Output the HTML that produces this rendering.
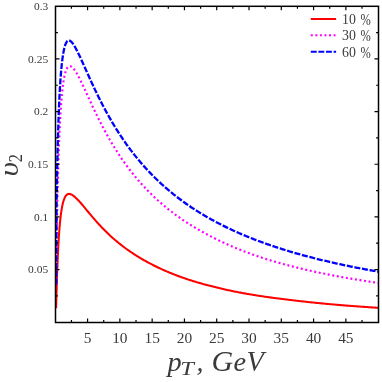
<!DOCTYPE html>
<html><head><meta charset="utf-8"><title>v2</title><style>html,body{margin:0;padding:0;background:#fff}body{width:382px;height:382px;overflow:hidden;font-family:"Liberation Serif",serif}</style></head><body>
<svg width="382" height="382" viewBox="0 0 382 382" style="display:block">
<rect width="382" height="382" fill="#fff"/>
<defs><clipPath id="c"><rect x="55.65" y="0" width="322.85" height="382"/></clipPath></defs>
<g fill="none" stroke-width="2.05" stroke-linejoin="round" clip-path="url(#c)">
<path d="M56.10 308.30 L57.04 275.58 L57.07 274.82 L57.10 274.06 L57.12 273.29 L57.15 272.52 L57.18 271.74 L57.21 270.96 L57.24 270.17 L57.27 269.38 L57.30 268.59 L57.33 267.79 L57.36 266.99 L57.39 266.18 L57.42 265.37 L57.46 264.56 L57.49 263.75 L57.52 262.93 L57.56 262.11 L57.59 261.28 L57.62 260.46 L57.66 259.63 L57.70 258.80 L57.73 257.97 L57.77 257.14 L57.81 256.30 L57.85 255.46 L57.88 254.62 L57.92 253.79 L57.96 252.95 L58.00 252.10 L58.05 251.26 L58.09 250.42 L58.13 249.58 L58.17 248.74 L58.22 247.90 L58.26 247.06 L58.31 246.21 L58.35 245.37 L58.40 244.54 L58.45 243.70 L58.50 242.86 L58.54 242.03 L58.59 241.19 L58.64 240.36 L58.69 239.53 L58.75 238.70 L58.80 237.88 L58.85 237.06 L58.91 236.24 L58.96 235.42 L59.02 234.61 L59.07 233.80 L59.13 232.99 L59.19 232.19 L59.25 231.39 L59.31 230.59 L59.37 229.80 L59.43 229.02 L59.50 228.24 L59.56 227.46 L59.63 226.69 L59.69 225.92 L59.76 225.16 L59.83 224.41 L59.90 223.66 L59.97 222.92 L60.04 222.18 L60.11 221.45 L60.18 220.72 L60.26 220.01 L60.33 219.30 L60.41 218.59 L60.49 217.90 L60.57 217.21 L60.65 216.52 L60.73 215.85 L60.81 215.18 L60.90 214.52 L60.98 213.87 L61.07 213.23 L61.16 212.60 L61.24 211.97 L61.34 211.35 L61.43 210.75 L61.52 210.15 L61.62 209.56 L61.71 208.98 L61.81 208.41 L61.91 207.84 L62.01 207.29 L62.11 206.75 L62.22 206.22 L62.32 205.69 L62.43 205.18 L62.54 204.68 L62.65 204.19 L62.76 203.70 L62.87 203.23 L62.99 202.77 L63.11 202.32 L63.23 201.88 L63.35 201.46 L63.47 201.04 L63.60 200.63 L63.72 200.24 L63.85 199.86 L63.98 199.48 L64.11 199.12 L64.25 198.78 L64.38 198.44 L64.52 198.11 L64.66 197.80 L64.81 197.50 L64.95 197.21 L65.10 196.93 L65.25 196.66 L65.40 196.41 L65.55 196.16 L65.71 195.93 L65.87 195.72 L66.03 195.51 L66.19 195.32 L66.36 195.13 L66.53 194.97 L66.70 194.81 L66.88 194.66 L67.05 194.53 L67.23 194.41 L67.41 194.30 L67.60 194.21 L67.79 194.12 L67.98 194.05 L68.17 193.99 L68.37 193.95 L68.57 193.91 L68.77 193.89 L68.97 193.88 L69.18 193.89 L69.39 193.90 L69.61 193.93 L69.83 193.97 L70.05 194.02 L70.27 194.08 L70.50 194.16 L70.73 194.24 L70.97 194.34 L71.21 194.45 L71.45 194.57 L71.70 194.70 L71.95 194.84 L72.20 194.99 L72.46 195.15 L72.72 195.32 L72.99 195.51 L73.26 195.70 L73.53 195.91 L73.81 196.12 L74.09 196.35 L74.38 196.59 L74.67 196.83 L75.69 197.74 L76.70 198.71 L77.72 199.74 L78.74 200.81 L79.75 201.91 L80.77 203.05 L81.78 204.21 L82.80 205.40 L83.82 206.61 L84.83 207.83 L85.85 209.06 L86.86 210.29 L87.88 211.52 L88.90 212.74 L89.91 213.96 L90.93 215.17 L91.95 216.37 L92.96 217.57 L93.98 218.75 L94.99 219.92 L96.01 221.07 L97.03 222.21 L98.04 223.34 L99.06 224.46 L100.07 225.56 L101.09 226.64 L102.11 227.71 L103.12 228.77 L104.14 229.81 L105.16 230.83 L106.17 231.84 L107.19 232.83 L108.20 233.80 L109.22 234.76 L110.24 235.70 L111.25 236.63 L112.27 237.54 L113.28 238.44 L114.30 239.33 L115.32 240.20 L116.33 241.06 L117.35 241.90 L118.37 242.74 L119.38 243.56 L120.40 244.37 L121.41 245.16 L122.43 245.95 L123.45 246.72 L124.46 247.49 L125.48 248.24 L126.49 248.98 L127.51 249.71 L128.53 250.43 L129.54 251.13 L130.56 251.83 L131.58 252.52 L132.59 253.20 L133.61 253.87 L134.62 254.53 L135.64 255.18 L136.66 255.82 L137.67 256.45 L138.69 257.08 L139.70 257.69 L140.72 258.30 L141.74 258.90 L142.75 259.49 L143.77 260.07 L144.79 260.64 L145.80 261.21 L146.82 261.77 L147.83 262.32 L148.85 262.87 L149.87 263.41 L150.88 263.94 L151.90 264.46 L152.91 264.98 L153.93 265.49 L154.95 266.00 L155.96 266.50 L156.98 266.99 L158.00 267.48 L159.01 267.96 L160.03 268.44 L161.04 268.91 L162.06 269.37 L163.08 269.83 L164.09 270.29 L165.11 270.73 L166.12 271.17 L167.14 271.61 L168.16 272.04 L169.17 272.47 L170.19 272.89 L171.21 273.30 L172.22 273.71 L173.24 274.12 L174.25 274.52 L175.27 274.91 L176.29 275.30 L177.30 275.69 L178.32 276.07 L179.33 276.44 L180.35 276.81 L181.37 277.18 L182.38 277.54 L183.40 277.90 L184.42 278.25 L185.43 278.59 L186.45 278.94 L187.46 279.27 L188.48 279.61 L189.50 279.94 L190.51 280.26 L191.53 280.58 L192.54 280.90 L193.56 281.21 L194.58 281.52 L195.59 281.83 L196.61 282.13 L197.63 282.43 L198.64 282.73 L199.66 283.03 L200.67 283.32 L201.69 283.60 L202.71 283.89 L203.72 284.17 L204.74 284.45 L205.75 284.73 L206.77 285.00 L207.79 285.27 L208.80 285.54 L209.82 285.80 L210.84 286.06 L211.85 286.32 L212.87 286.58 L213.88 286.83 L214.90 287.09 L215.92 287.33 L216.93 287.58 L217.95 287.83 L218.96 288.07 L219.98 288.31 L221.00 288.54 L222.01 288.78 L223.03 289.01 L224.05 289.24 L225.06 289.47 L226.08 289.69 L227.09 289.92 L228.11 290.14 L229.13 290.36 L230.14 290.57 L231.16 290.79 L232.17 291.00 L233.19 291.21 L234.21 291.42 L235.22 291.63 L236.24 291.83 L237.26 292.04 L238.27 292.24 L239.29 292.43 L240.30 292.63 L241.32 292.82 L242.34 293.01 L243.35 293.20 L244.37 293.38 L245.38 293.56 L246.40 293.74 L247.42 293.92 L248.43 294.10 L249.45 294.27 L250.47 294.44 L251.48 294.61 L252.50 294.78 L253.51 294.94 L254.53 295.11 L255.55 295.27 L256.56 295.43 L257.58 295.59 L258.59 295.74 L259.61 295.90 L260.63 296.05 L261.64 296.20 L262.66 296.35 L263.67 296.50 L264.69 296.65 L265.71 296.79 L266.72 296.93 L267.74 297.08 L268.76 297.22 L269.77 297.36 L270.79 297.50 L271.80 297.63 L272.82 297.77 L273.84 297.91 L274.85 298.04 L275.87 298.17 L276.88 298.31 L277.90 298.44 L278.92 298.57 L279.93 298.70 L280.95 298.83 L281.97 298.96 L282.98 299.08 L284.00 299.21 L285.01 299.34 L286.03 299.46 L287.05 299.59 L288.06 299.71 L289.08 299.84 L290.09 299.96 L291.11 300.08 L292.13 300.21 L293.14 300.33 L294.16 300.45 L295.18 300.57 L296.19 300.69 L297.21 300.80 L298.22 300.92 L299.24 301.04 L300.26 301.15 L301.27 301.27 L302.29 301.38 L303.30 301.49 L304.32 301.60 L305.34 301.72 L306.35 301.83 L307.37 301.94 L308.39 302.04 L309.40 302.15 L310.42 302.26 L311.43 302.37 L312.45 302.47 L313.47 302.58 L314.48 302.68 L315.50 302.78 L316.51 302.89 L317.53 302.99 L318.55 303.09 L319.56 303.19 L320.58 303.29 L321.60 303.39 L322.61 303.48 L323.63 303.58 L324.64 303.68 L325.66 303.77 L326.68 303.87 L327.69 303.96 L328.71 304.06 L329.72 304.15 L330.74 304.24 L331.76 304.33 L332.77 304.42 L333.79 304.51 L334.81 304.60 L335.82 304.69 L336.84 304.78 L337.85 304.86 L338.87 304.95 L339.89 305.03 L340.90 305.12 L341.92 305.20 L342.93 305.28 L343.95 305.37 L344.97 305.45 L345.98 305.53 L347.00 305.61 L348.02 305.69 L349.03 305.77 L350.05 305.85 L351.06 305.93 L352.08 306.00 L353.10 306.08 L354.11 306.16 L355.13 306.23 L356.14 306.31 L357.16 306.38 L358.18 306.46 L359.19 306.53 L360.21 306.60 L361.23 306.67 L362.24 306.75 L363.26 306.82 L364.27 306.89 L365.29 306.96 L366.31 307.03 L367.32 307.10 L368.34 307.16 L369.35 307.23 L370.37 307.30 L371.39 307.37 L372.40 307.43 L373.42 307.50 L374.44 307.56 L375.45 307.63 L376.47 307.69 L377.48 307.76 L378.50 307.82" stroke="#ff0000"/>
<path d="M56.55 284.50 L56.59 241.61 L56.61 240.28 L56.64 238.94 L56.66 237.58 L56.68 236.22 L56.71 234.84 L56.73 233.45 L56.75 232.05 L56.78 230.63 L56.81 229.21 L56.83 227.77 L56.86 226.33 L56.88 224.87 L56.91 223.40 L56.94 221.93 L56.97 220.44 L57.00 218.94 L57.03 217.43 L57.05 215.92 L57.08 214.39 L57.12 212.85 L57.15 211.31 L57.18 209.76 L57.21 208.19 L57.24 206.62 L57.28 205.05 L57.31 203.46 L57.35 201.87 L57.38 200.27 L57.42 198.66 L57.45 197.05 L57.49 195.43 L57.53 193.80 L57.57 192.17 L57.60 190.53 L57.64 188.89 L57.68 187.25 L57.73 185.59 L57.77 183.94 L57.81 182.28 L57.85 180.62 L57.90 178.95 L57.94 177.29 L57.99 175.62 L58.03 173.94 L58.08 172.27 L58.13 170.59 L58.18 168.92 L58.22 167.24 L58.28 165.56 L58.33 163.89 L58.38 162.21 L58.43 160.54 L58.48 158.87 L58.54 157.19 L58.60 155.53 L58.65 153.86 L58.71 152.20 L58.77 150.54 L58.83 148.88 L58.89 147.23 L58.95 145.58 L59.01 143.94 L59.08 142.31 L59.14 140.68 L59.21 139.05 L59.27 137.44 L59.34 135.83 L59.41 134.23 L59.48 132.64 L59.55 131.05 L59.63 129.48 L59.70 127.92 L59.78 126.36 L59.85 124.82 L59.93 123.29 L60.01 121.77 L60.09 120.26 L60.18 118.76 L60.26 117.28 L60.34 115.81 L60.43 114.35 L60.52 112.91 L60.61 111.48 L60.70 110.07 L60.79 108.67 L60.89 107.29 L60.98 105.93 L61.08 104.58 L61.18 103.25 L61.28 101.94 L61.38 100.65 L61.49 99.37 L61.59 98.12 L61.70 96.88 L61.81 95.67 L61.92 94.47 L62.04 93.30 L62.15 92.14 L62.27 91.01 L62.39 89.90 L62.51 88.81 L62.64 87.75 L62.76 86.71 L62.89 85.69 L63.02 84.69 L63.15 83.72 L63.29 82.78 L63.43 81.85 L63.57 80.95 L63.71 80.08 L63.85 79.23 L64.00 78.41 L64.15 77.62 L64.30 76.85 L64.46 76.10 L64.61 75.38 L64.77 74.69 L64.94 74.02 L65.10 73.39 L65.27 72.77 L65.44 72.19 L65.62 71.63 L65.79 71.10 L65.97 70.59 L66.16 70.12 L66.34 69.66 L66.53 69.24 L66.72 68.85 L66.92 68.48 L67.12 68.14 L67.32 67.82 L67.53 67.54 L67.74 67.28 L67.95 67.04 L68.17 66.84 L68.39 66.66 L68.62 66.51 L68.85 66.39 L69.08 66.30 L69.32 66.23 L69.56 66.19 L69.80 66.17 L70.05 66.19 L70.30 66.23 L70.56 66.30 L70.82 66.40 L71.09 66.52 L71.36 66.67 L71.64 66.85 L71.92 67.05 L72.20 67.29 L72.49 67.55 L72.79 67.83 L73.09 68.15 L73.40 68.49 L73.71 68.86 L74.02 69.26 L74.34 69.68 L74.67 70.13 L75.69 71.65 L76.70 73.31 L77.72 75.10 L78.74 77.00 L79.75 78.97 L80.77 81.02 L81.78 83.11 L82.80 85.25 L83.82 87.42 L84.83 89.60 L85.85 91.81 L86.86 94.02 L87.88 96.23 L88.90 98.44 L89.91 100.64 L90.93 102.84 L91.95 105.02 L92.96 107.18 L93.98 109.33 L94.99 111.46 L96.01 113.56 L97.03 115.65 L98.04 117.71 L99.06 119.75 L100.07 121.76 L101.09 123.75 L102.11 125.71 L103.12 127.65 L104.14 129.56 L105.16 131.45 L106.17 133.31 L107.19 135.14 L108.20 136.95 L109.22 138.73 L110.24 140.49 L111.25 142.23 L112.27 143.94 L113.28 145.62 L114.30 147.28 L115.32 148.92 L116.33 150.53 L117.35 152.12 L118.37 153.69 L119.38 155.23 L120.40 156.76 L121.41 158.26 L122.43 159.74 L123.45 161.19 L124.46 162.63 L125.48 164.05 L126.49 165.45 L127.51 166.82 L128.53 168.18 L129.54 169.52 L130.56 170.84 L131.58 172.14 L132.59 173.42 L133.61 174.69 L134.62 175.94 L135.64 177.17 L136.66 178.38 L137.67 179.58 L138.69 180.76 L139.70 181.93 L140.72 183.08 L141.74 184.21 L142.75 185.33 L143.77 186.43 L144.79 187.52 L145.80 188.60 L146.82 189.66 L147.83 190.71 L148.85 191.74 L149.87 192.76 L150.88 193.77 L151.90 194.77 L152.91 195.75 L153.93 196.72 L154.95 197.68 L155.96 198.62 L156.98 199.56 L158.00 200.48 L159.01 201.39 L160.03 202.29 L161.04 203.18 L162.06 204.05 L163.08 204.92 L164.09 205.78 L165.11 206.62 L166.12 207.46 L167.14 208.29 L168.16 209.10 L169.17 209.91 L170.19 210.71 L171.21 211.50 L172.22 212.27 L173.24 213.04 L174.25 213.81 L175.27 214.56 L176.29 215.30 L177.30 216.04 L178.32 216.76 L179.33 217.48 L180.35 218.19 L181.37 218.90 L182.38 219.59 L183.40 220.28 L184.42 220.96 L185.43 221.63 L186.45 222.30 L187.46 222.95 L188.48 223.61 L189.50 224.25 L190.51 224.89 L191.53 225.52 L192.54 226.14 L193.56 226.76 L194.58 227.37 L195.59 227.97 L196.61 228.57 L197.63 229.16 L198.64 229.75 L199.66 230.32 L200.67 230.90 L201.69 231.47 L202.71 232.03 L203.72 232.59 L204.74 233.14 L205.75 233.69 L206.77 234.24 L207.79 234.78 L208.80 235.31 L209.82 235.84 L210.84 236.37 L211.85 236.89 L212.87 237.41 L213.88 237.92 L214.90 238.43 L215.92 238.94 L216.93 239.44 L217.95 239.93 L218.96 240.42 L219.98 240.91 L221.00 241.39 L222.01 241.87 L223.03 242.35 L224.05 242.82 L225.06 243.29 L226.08 243.75 L227.09 244.21 L228.11 244.66 L229.13 245.11 L230.14 245.56 L231.16 246.00 L232.17 246.44 L233.19 246.88 L234.21 247.31 L235.22 247.74 L236.24 248.16 L237.26 248.59 L238.27 249.00 L239.29 249.41 L240.30 249.82 L241.32 250.23 L242.34 250.63 L243.35 251.03 L244.37 251.42 L245.38 251.82 L246.40 252.20 L247.42 252.59 L248.43 252.97 L249.45 253.34 L250.47 253.72 L251.48 254.09 L252.50 254.45 L253.51 254.81 L254.53 255.17 L255.55 255.53 L256.56 255.88 L257.58 256.23 L258.59 256.57 L259.61 256.91 L260.63 257.25 L261.64 257.58 L262.66 257.91 L263.67 258.24 L264.69 258.56 L265.71 258.88 L266.72 259.20 L267.74 259.52 L268.76 259.83 L269.77 260.14 L270.79 260.45 L271.80 260.75 L272.82 261.06 L273.84 261.36 L274.85 261.65 L275.87 261.95 L276.88 262.24 L277.90 262.53 L278.92 262.82 L279.93 263.11 L280.95 263.39 L281.97 263.67 L282.98 263.95 L284.00 264.23 L285.01 264.51 L286.03 264.78 L287.05 265.05 L288.06 265.32 L289.08 265.59 L290.09 265.85 L291.11 266.11 L292.13 266.38 L293.14 266.63 L294.16 266.89 L295.18 267.15 L296.19 267.40 L297.21 267.65 L298.22 267.90 L299.24 268.15 L300.26 268.39 L301.27 268.64 L302.29 268.88 L303.30 269.12 L304.32 269.36 L305.34 269.59 L306.35 269.83 L307.37 270.06 L308.39 270.29 L309.40 270.52 L310.42 270.75 L311.43 270.98 L312.45 271.20 L313.47 271.43 L314.48 271.65 L315.50 271.87 L316.51 272.09 L317.53 272.30 L318.55 272.52 L319.56 272.73 L320.58 272.95 L321.60 273.16 L322.61 273.37 L323.63 273.57 L324.64 273.78 L325.66 273.99 L326.68 274.19 L327.69 274.39 L328.71 274.59 L329.72 274.79 L330.74 274.99 L331.76 275.19 L332.77 275.39 L333.79 275.58 L334.81 275.77 L335.82 275.96 L336.84 276.15 L337.85 276.34 L338.87 276.53 L339.89 276.72 L340.90 276.90 L341.92 277.08 L342.93 277.27 L343.95 277.45 L344.97 277.63 L345.98 277.80 L347.00 277.98 L348.02 278.16 L349.03 278.33 L350.05 278.51 L351.06 278.68 L352.08 278.85 L353.10 279.02 L354.11 279.19 L355.13 279.36 L356.14 279.52 L357.16 279.69 L358.18 279.85 L359.19 280.01 L360.21 280.18 L361.23 280.34 L362.24 280.50 L363.26 280.66 L364.27 280.81 L365.29 280.97 L366.31 281.13 L367.32 281.28 L368.34 281.44 L369.35 281.59 L370.37 281.74 L371.39 281.89 L372.40 282.04 L373.42 282.19 L374.44 282.34 L375.45 282.48 L376.47 282.63 L377.48 282.78 L378.50 282.92" stroke="#ff00ff" stroke-dasharray="2.0 2.6" stroke-width="2.15"/>
<path d="M56.20 284.50 L56.59 203.42 L56.61 201.97 L56.64 200.50 L56.66 199.03 L56.68 197.55 L56.71 196.06 L56.73 194.57 L56.75 193.07 L56.78 191.56 L56.81 190.05 L56.83 188.53 L56.86 187.00 L56.88 185.47 L56.91 183.93 L56.94 182.39 L56.97 180.84 L57.00 179.28 L57.03 177.72 L57.05 176.16 L57.08 174.59 L57.12 173.02 L57.15 171.44 L57.18 169.86 L57.21 168.28 L57.24 166.69 L57.28 165.10 L57.31 163.51 L57.35 161.91 L57.38 160.31 L57.42 158.71 L57.45 157.11 L57.49 155.51 L57.53 153.91 L57.57 152.30 L57.60 150.70 L57.64 149.09 L57.68 147.48 L57.73 145.88 L57.77 144.27 L57.81 142.67 L57.85 141.07 L57.90 139.46 L57.94 137.86 L57.99 136.27 L58.03 134.67 L58.08 133.08 L58.13 131.49 L58.18 129.90 L58.22 128.32 L58.28 126.74 L58.33 125.17 L58.38 123.60 L58.43 122.03 L58.48 120.47 L58.54 118.92 L58.60 117.37 L58.65 115.83 L58.71 114.29 L58.77 112.76 L58.83 111.24 L58.89 109.73 L58.95 108.22 L59.01 106.73 L59.08 105.24 L59.14 103.76 L59.21 102.29 L59.27 100.82 L59.34 99.37 L59.41 97.93 L59.48 96.50 L59.55 95.08 L59.63 93.68 L59.70 92.28 L59.78 90.90 L59.85 89.52 L59.93 88.16 L60.01 86.82 L60.09 85.48 L60.18 84.17 L60.26 82.86 L60.34 81.57 L60.43 80.29 L60.52 79.03 L60.61 77.78 L60.70 76.55 L60.79 75.34 L60.89 74.14 L60.98 72.95 L61.08 71.79 L61.18 70.64 L61.28 69.51 L61.38 68.39 L61.49 67.30 L61.59 66.22 L61.70 65.16 L61.81 64.12 L61.92 63.09 L62.04 62.09 L62.15 61.11 L62.27 60.14 L62.39 59.20 L62.51 58.28 L62.64 57.37 L62.76 56.49 L62.89 55.63 L63.02 54.79 L63.15 53.97 L63.29 53.17 L63.43 52.40 L63.57 51.64 L63.71 50.91 L63.85 50.21 L64.00 49.52 L64.15 48.86 L64.30 48.22 L64.46 47.61 L64.61 47.01 L64.77 46.45 L64.94 45.91 L65.10 45.39 L65.27 44.89 L65.44 44.43 L65.62 43.98 L65.79 43.57 L65.97 43.17 L66.16 42.81 L66.34 42.47 L66.53 42.15 L66.72 41.87 L66.92 41.61 L67.12 41.37 L67.32 41.16 L67.53 40.98 L67.74 40.83 L67.95 40.70 L68.17 40.61 L68.39 40.53 L68.62 40.49 L68.85 40.47 L69.08 40.48 L69.32 40.52 L69.56 40.59 L69.80 40.68 L70.05 40.80 L70.30 40.95 L70.56 41.13 L70.82 41.33 L71.09 41.56 L71.36 41.82 L71.64 42.10 L71.92 42.41 L72.20 42.75 L72.49 43.12 L72.79 43.51 L73.09 43.92 L73.40 44.37 L73.71 44.84 L74.02 45.33 L74.34 45.86 L74.67 46.40 L75.69 48.20 L76.70 50.11 L77.72 52.11 L78.74 54.20 L79.75 56.33 L80.77 58.52 L81.78 60.73 L82.80 62.97 L83.82 65.22 L84.83 67.48 L85.85 69.75 L86.86 72.01 L87.88 74.26 L88.90 76.51 L89.91 78.74 L90.93 80.96 L91.95 83.16 L92.96 85.34 L93.98 87.50 L94.99 89.64 L96.01 91.76 L97.03 93.86 L98.04 95.93 L99.06 97.98 L100.07 100.00 L101.09 102.00 L102.11 103.98 L103.12 105.93 L104.14 107.85 L105.16 109.75 L106.17 111.63 L107.19 113.48 L108.20 115.31 L109.22 117.11 L110.24 118.89 L111.25 120.64 L112.27 122.37 L113.28 124.08 L114.30 125.77 L115.32 127.43 L116.33 129.07 L117.35 130.68 L118.37 132.28 L119.38 133.85 L120.40 135.41 L121.41 136.94 L122.43 138.45 L123.45 139.94 L124.46 141.41 L125.48 142.86 L126.49 144.29 L127.51 145.71 L128.53 147.10 L129.54 148.48 L130.56 149.83 L131.58 151.18 L132.59 152.50 L133.61 153.80 L134.62 155.09 L135.64 156.37 L136.66 157.62 L137.67 158.86 L138.69 160.09 L139.70 161.30 L140.72 162.49 L141.74 163.67 L142.75 164.83 L143.77 165.98 L144.79 167.12 L145.80 168.24 L146.82 169.35 L147.83 170.44 L148.85 171.53 L149.87 172.59 L150.88 173.65 L151.90 174.69 L152.91 175.72 L153.93 176.74 L154.95 177.75 L155.96 178.74 L156.98 179.73 L158.00 180.70 L159.01 181.66 L160.03 182.61 L161.04 183.55 L162.06 184.48 L163.08 185.39 L164.09 186.30 L165.11 187.20 L166.12 188.08 L167.14 188.96 L168.16 189.83 L169.17 190.69 L170.19 191.54 L171.21 192.38 L172.22 193.21 L173.24 194.03 L174.25 194.84 L175.27 195.64 L176.29 196.44 L177.30 197.23 L178.32 198.00 L179.33 198.77 L180.35 199.54 L181.37 200.29 L182.38 201.04 L183.40 201.78 L184.42 202.51 L185.43 203.23 L186.45 203.95 L187.46 204.66 L188.48 205.36 L189.50 206.05 L190.51 206.74 L191.53 207.42 L192.54 208.10 L193.56 208.77 L194.58 209.43 L195.59 210.08 L196.61 210.73 L197.63 211.37 L198.64 212.01 L199.66 212.64 L200.67 213.26 L201.69 213.88 L202.71 214.49 L203.72 215.10 L204.74 215.70 L205.75 216.29 L206.77 216.88 L207.79 217.47 L208.80 218.04 L209.82 218.62 L210.84 219.19 L211.85 219.75 L212.87 220.31 L213.88 220.86 L214.90 221.41 L215.92 221.95 L216.93 222.49 L217.95 223.02 L218.96 223.55 L219.98 224.07 L221.00 224.59 L222.01 225.10 L223.03 225.61 L224.05 226.12 L225.06 226.62 L226.08 227.12 L227.09 227.61 L228.11 228.10 L229.13 228.58 L230.14 229.06 L231.16 229.54 L232.17 230.01 L233.19 230.47 L234.21 230.94 L235.22 231.40 L236.24 231.85 L237.26 232.31 L238.27 232.76 L239.29 233.20 L240.30 233.64 L241.32 234.08 L242.34 234.51 L243.35 234.94 L244.37 235.37 L245.38 235.79 L246.40 236.21 L247.42 236.63 L248.43 237.04 L249.45 237.45 L250.47 237.86 L251.48 238.26 L252.50 238.67 L253.51 239.06 L254.53 239.46 L255.55 239.85 L256.56 240.24 L257.58 240.62 L258.59 241.00 L259.61 241.38 L260.63 241.76 L261.64 242.13 L262.66 242.50 L263.67 242.87 L264.69 243.24 L265.71 243.60 L266.72 243.96 L267.74 244.31 L268.76 244.67 L269.77 245.02 L270.79 245.37 L271.80 245.71 L272.82 246.06 L273.84 246.40 L274.85 246.74 L275.87 247.07 L276.88 247.41 L277.90 247.74 L278.92 248.07 L279.93 248.40 L280.95 248.72 L281.97 249.04 L282.98 249.36 L284.00 249.68 L285.01 249.99 L286.03 250.31 L287.05 250.62 L288.06 250.93 L289.08 251.23 L290.09 251.54 L291.11 251.84 L292.13 252.14 L293.14 252.44 L294.16 252.73 L295.18 253.03 L296.19 253.32 L297.21 253.61 L298.22 253.90 L299.24 254.18 L300.26 254.46 L301.27 254.75 L302.29 255.03 L303.30 255.31 L304.32 255.58 L305.34 255.86 L306.35 256.13 L307.37 256.40 L308.39 256.67 L309.40 256.94 L310.42 257.20 L311.43 257.46 L312.45 257.73 L313.47 257.99 L314.48 258.25 L315.50 258.50 L316.51 258.76 L317.53 259.01 L318.55 259.26 L319.56 259.51 L320.58 259.76 L321.60 260.01 L322.61 260.25 L323.63 260.50 L324.64 260.74 L325.66 260.98 L326.68 261.22 L327.69 261.46 L328.71 261.70 L329.72 261.93 L330.74 262.16 L331.76 262.40 L332.77 262.63 L333.79 262.86 L334.81 263.08 L335.82 263.31 L336.84 263.53 L337.85 263.76 L338.87 263.98 L339.89 264.20 L340.90 264.42 L341.92 264.64 L342.93 264.86 L343.95 265.07 L344.97 265.28 L345.98 265.50 L347.00 265.71 L348.02 265.92 L349.03 266.13 L350.05 266.34 L351.06 266.54 L352.08 266.75 L353.10 266.95 L354.11 267.16 L355.13 267.36 L356.14 267.56 L357.16 267.76 L358.18 267.96 L359.19 268.15 L360.21 268.35 L361.23 268.54 L362.24 268.74 L363.26 268.93 L364.27 269.12 L365.29 269.31 L366.31 269.50 L367.32 269.69 L368.34 269.88 L369.35 270.06 L370.37 270.25 L371.39 270.43 L372.40 270.61 L373.42 270.80 L374.44 270.98 L375.45 271.16 L376.47 271.34 L377.48 271.51 L378.50 271.69" stroke="#0000ff" stroke-dasharray="6.0 1.7" stroke-width="2.3"/>
<path d="M310.8 18.9H336.1" stroke="#ff0000"/>
<path d="M310.8 35.3H336.1" stroke="#ff00ff" stroke-dasharray="2.0 2.55"/>
<path d="M310.8 51.8H336.1" stroke="#0000ff" stroke-dasharray="5.9 1.7"/>
</g>
<rect x="55.50" y="6.30" width="323.00" height="316.20" fill="none" stroke="#000" stroke-width="1.5"/>
<path d="M71.44 322.50v-2.40M71.44 6.30v2.40M87.58 322.50v-4.00M87.58 6.30v4.00M103.73 322.50v-2.40M103.73 6.30v2.40M119.87 322.50v-4.00M119.87 6.30v4.00M136.01 322.50v-2.40M136.01 6.30v2.40M152.16 322.50v-4.00M152.16 6.30v4.00M168.30 322.50v-2.40M168.30 6.30v2.40M184.44 322.50v-4.00M184.44 6.30v4.00M200.58 322.50v-2.40M200.58 6.30v2.40M216.72 322.50v-4.00M216.72 6.30v4.00M232.87 322.50v-2.40M232.87 6.30v2.40M249.01 322.50v-4.00M249.01 6.30v4.00M265.15 322.50v-2.40M265.15 6.30v2.40M281.30 322.50v-4.00M281.30 6.30v4.00M297.44 322.50v-2.40M297.44 6.30v2.40M313.58 322.50v-4.00M313.58 6.30v4.00M329.72 322.50v-2.40M329.72 6.30v2.40M345.87 322.50v-4.00M345.87 6.30v4.00M362.01 322.50v-2.40M362.01 6.30v2.40M55.50 295.88h2.40M378.50 295.88h-2.40M55.50 269.55h4.00M378.50 269.55h-4.00M55.50 243.22h2.40M378.50 243.22h-2.40M55.50 216.90h4.00M378.50 216.90h-4.00M55.50 190.57h2.40M378.50 190.57h-2.40M55.50 164.25h4.00M378.50 164.25h-4.00M55.50 137.92h2.40M378.50 137.92h-2.40M55.50 111.60h4.00M378.50 111.60h-4.00M55.50 85.27h2.40M378.50 85.27h-2.40M55.50 58.95h4.00M378.50 58.95h-4.00M55.50 32.62h2.40M378.50 32.62h-2.40" stroke="#000" stroke-width="1.2" fill="none"/>
<g opacity="0.999" font-family="'Liberation Serif', serif" fill="#3a3a3a">
<text x="48.2" y="273.35" font-size="9.6" text-anchor="end" textLength="20.1" lengthAdjust="spacingAndGlyphs">0.05</text>
<text x="48.2" y="220.70" font-size="9.6" text-anchor="end" textLength="14.2" lengthAdjust="spacingAndGlyphs">0.1</text>
<text x="48.2" y="168.05" font-size="9.6" text-anchor="end" textLength="20.1" lengthAdjust="spacingAndGlyphs">0.15</text>
<text x="48.2" y="115.40" font-size="9.6" text-anchor="end" textLength="14.2" lengthAdjust="spacingAndGlyphs">0.2</text>
<text x="48.2" y="62.75" font-size="9.6" text-anchor="end" textLength="20.1" lengthAdjust="spacingAndGlyphs">0.25</text>
<text x="48.2" y="10.10" font-size="9.6" text-anchor="end" textLength="14.2" lengthAdjust="spacingAndGlyphs">0.3</text>
<text x="87.58" y="343.1" font-size="15.4" text-anchor="middle">5</text>
<text x="119.87" y="343.1" font-size="15.4" text-anchor="middle">10</text>
<text x="152.16" y="343.1" font-size="15.4" text-anchor="middle">15</text>
<text x="184.44" y="343.1" font-size="15.4" text-anchor="middle">20</text>
<text x="216.72" y="343.1" font-size="15.4" text-anchor="middle">25</text>
<text x="249.01" y="343.1" font-size="15.4" text-anchor="middle">30</text>
<text x="281.30" y="343.1" font-size="15.4" text-anchor="middle">35</text>
<text x="313.58" y="343.1" font-size="15.4" text-anchor="middle">40</text>
<text x="345.87" y="343.1" font-size="15.4" text-anchor="middle">45</text>
<text x="342.1" y="23.6" font-size="13.8">10</text>
<text transform="translate(360.5 24.7) scale(0.95 1.34)" font-size="13">%</text>
<text x="342.1" y="40.1" font-size="13.8">30</text>
<text transform="translate(360.5 41.2) scale(0.95 1.34)" font-size="13">%</text>
<text x="342.1" y="56.5" font-size="13.8">60</text>
<text transform="translate(360.5 57.6) scale(0.95 1.34)" font-size="13">%</text>
<text transform="translate(167.50 370.60) scale(1.030 1)" font-size="27.5" font-style="italic">p</text>
<text transform="translate(180.20 374.90) scale(1.260 1)" font-size="19.5" font-style="italic">T</text>
<text transform="translate(196.50 370.60) scale(1.000 1)" font-size="27.5" font-style="italic">,</text>
<text transform="translate(211.60 370.60) scale(1.000 1)" font-size="30.0" font-style="italic">G</text>
<text transform="translate(233.60 370.60) scale(1.030 1)" font-size="27.5" font-style="italic">e</text>
<text transform="translate(246.60 370.60) scale(0.950 1)" font-size="30.0" font-style="italic">V</text>
<text transform="translate(18.3 176.4) rotate(-90) scale(1.15 1)" font-size="27.5" font-style="italic">&#965;</text>
<text transform="translate(21.8 162.3) rotate(-90) scale(0.88 1)" font-size="18.6">2</text>
</g>
</svg>
</body></html>
